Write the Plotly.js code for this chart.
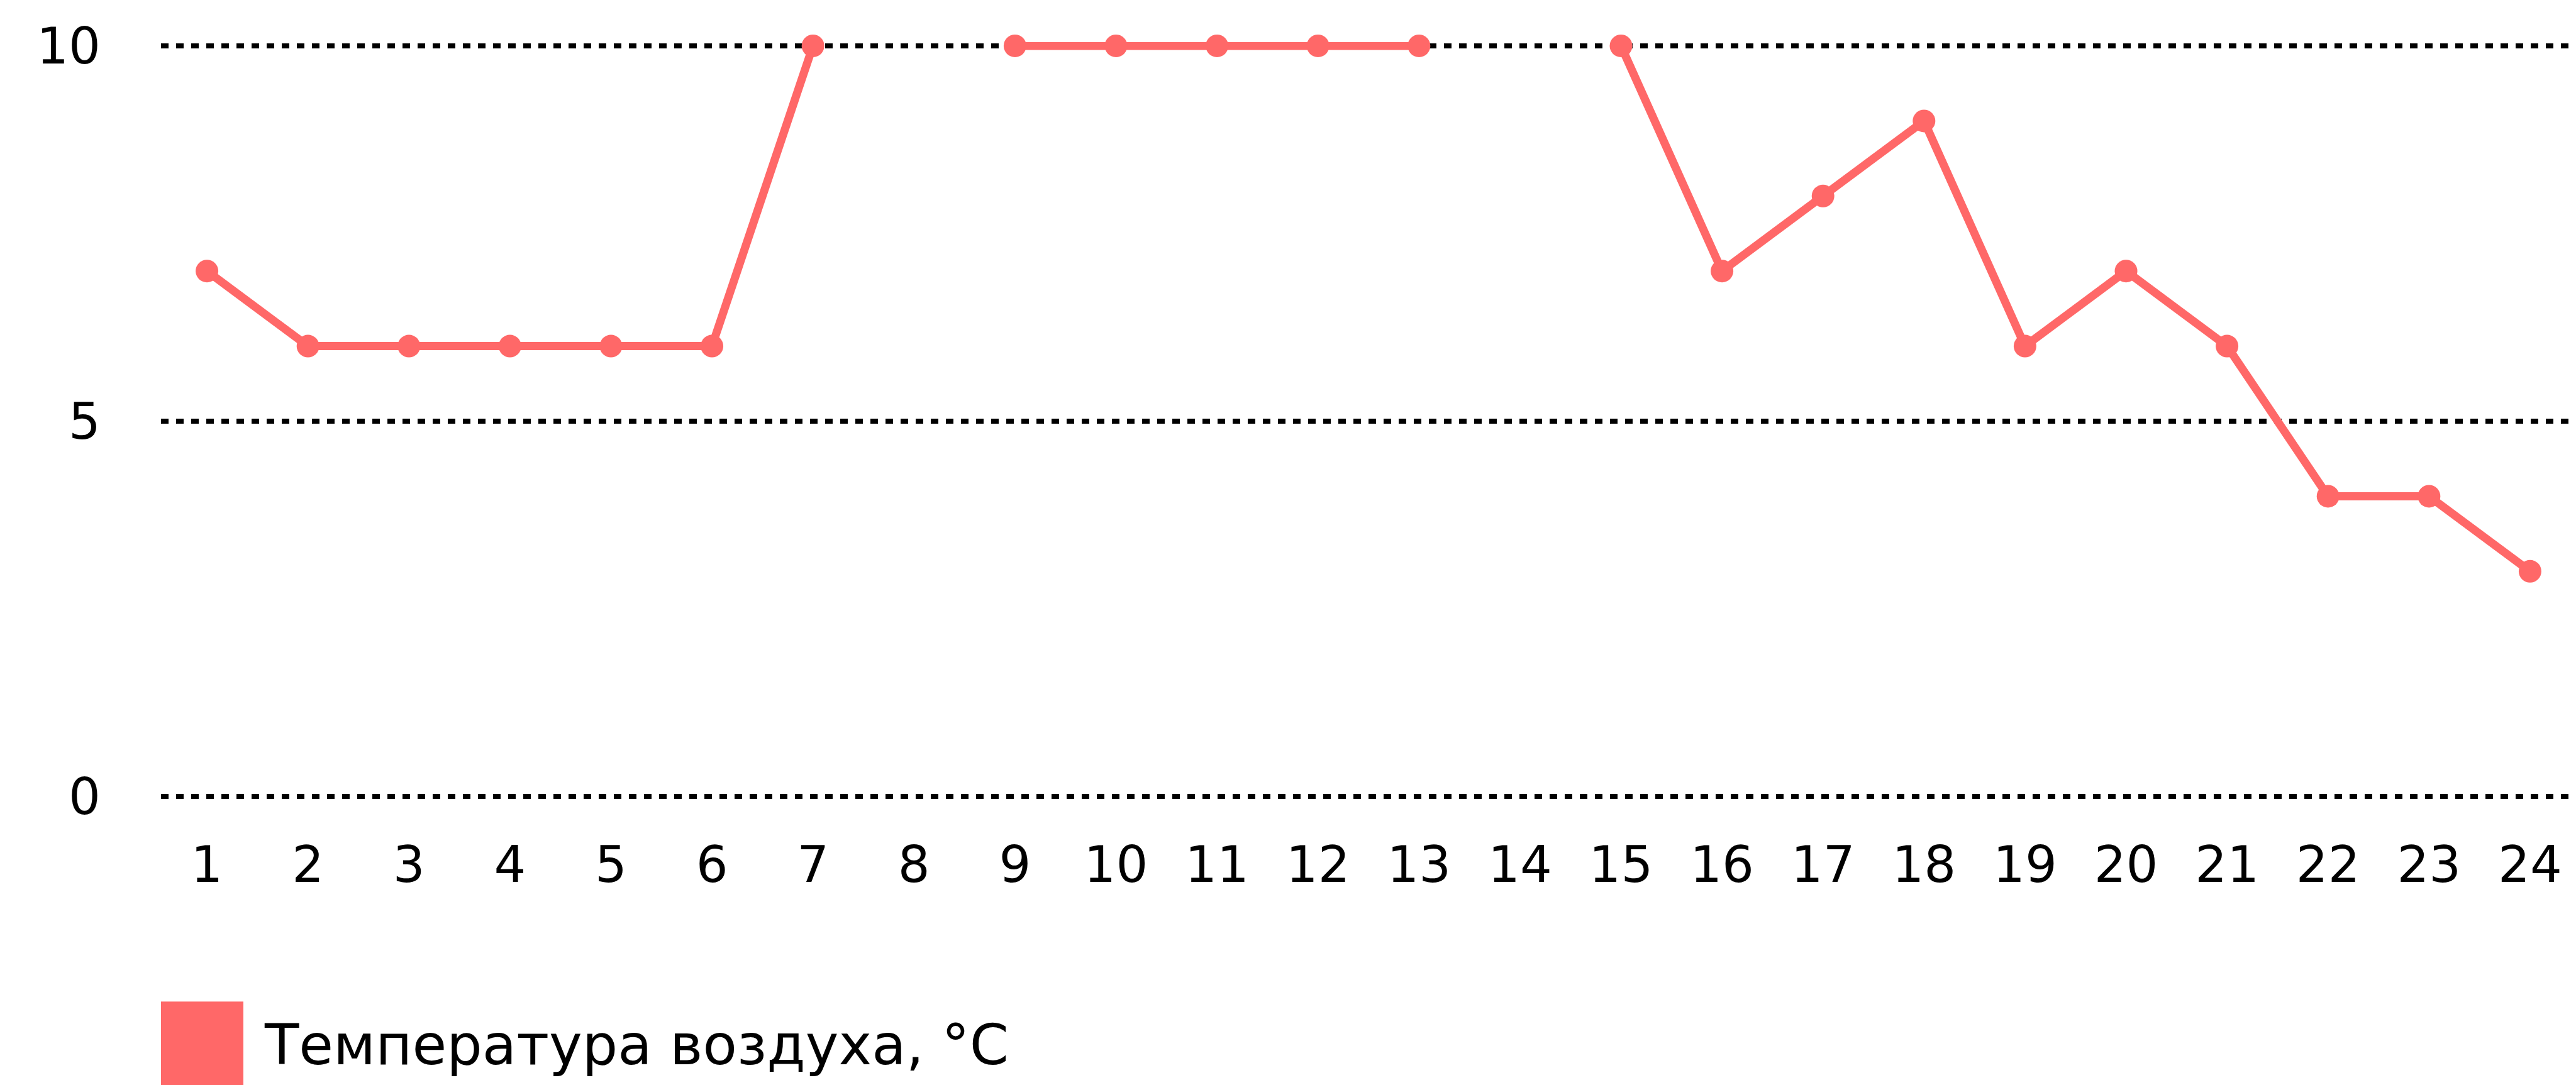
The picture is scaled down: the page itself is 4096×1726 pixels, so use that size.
<!DOCTYPE html>
<html>
<head>
<meta charset="utf-8">
<script src="https://cdn.plot.ly/plotly-3.0.1.min.js"></script>
<style>
html,body{margin:0;padding:0;background:#fff;}
#chart{width:4096px;height:1726px;}
</style>
</head>
<body>
<div id="chart"></div>
<script>
var hours = [1,2,3,4,5,6,7,8,9,10,11,12,13,14,15,16,17,18,19,20,21,22,23,24];
var temperature = [7,6,6,6,6,6,10,null,10,10,10,10,10,null,10,7,8,9,6,7,6,4,4,3];
var seriesName = 'Температура воздуха, °C';
var yTicks = [0,5,10];
var lineColor = '#ff6868';

var trace = {
  x: hours,
  y: temperature,
  type: 'scatter',
  mode: 'lines+markers',
  name: seriesName,
  connectgaps: false,
  cliponaxis: false,
  line: {color: lineColor, width: 13},
  marker: {color: lineColor, size: 36}
};

var layout = {
  width: 4096,
  height: 1726,
  margin: {l: 256, r: 0, t: 67, b: 453, pad: 0},
  paper_bgcolor: '#fff',
  plot_bgcolor: '#fff',
  showlegend: false,
  font: {family: 'DejaVu Sans, Verdana, sans-serif', color: '#000', size: 80},
  xaxis: {
    range: [0.545, 24.455],
    tickvals: hours,
    ticktext: hours.map(String),
    showgrid: false,
    zeroline: false,
    showline: false,
    ticks: '',
    ticklabelstandoff: 49,
    tickfont: {size: 80}
  },
  yaxis: {
    range: [-0.05, 10.05],
    tickvals: yTicks,
    ticktext: yTicks.map(String),
    showgrid: true,
    gridcolor: '#000',
    gridwidth: 8,
    griddash: '12px,12px',
    zeroline: false,
    showline: false,
    ticks: '',
    ticklabelstandoff: 95,
    tickfont: {size: 80}
  },
  shapes: [{
    type: 'rect', xref: 'paper', yref: 'paper',
    x0: 0, x1: 0.0341, y0: -0.2655, y1: -0.3757,
    fillcolor: lineColor, line: {width: 0}
  }],
  annotations: [{
    xref: 'paper', yref: 'paper', x: 0.0422, y: -0.3225,
    xanchor: 'left', yanchor: 'middle', showarrow: false,
    text: seriesName, font: {size: 89, color: '#000'}
  }]
};

Plotly.newPlot('chart', [trace], layout, {staticPlot: true, displayModeBar: false});
</script>
</body>
</html>
